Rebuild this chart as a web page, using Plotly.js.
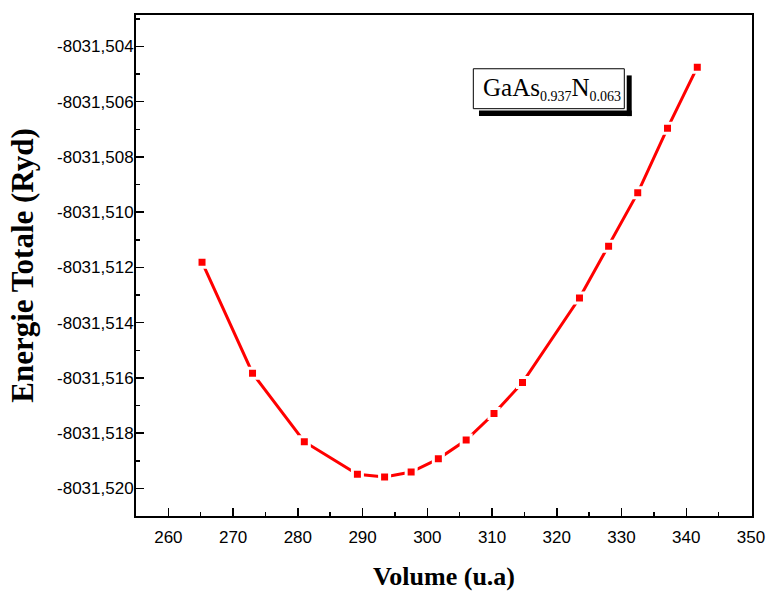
<!DOCTYPE html>
<html>
<head>
<meta charset="utf-8">
<script src="https://cdn.plot.ly/plotly-3.0.1.min.js"></script>
<style>html,body{margin:0;padding:0;background:#fff;}#chart{width:766px;height:595px;}</style>
</head>
<body>
<div id="chart"></div>
<script>
// Data
const volume = [265.2, 273.0, 281.0, 289.2, 293.4, 297.5, 301.7, 306.0, 310.3, 314.7, 323.5, 328.0, 332.5, 337.1, 341.7];
const energy = [-8031.51181, -8031.51583, -8031.51831, -8031.51949, -8031.51959, -8031.51941, -8031.51893,
                -8031.51825, -8031.51729, -8031.51617, -8031.51311, -8031.51123, -8031.50930, -8031.50696, -8031.50475];
const xTickVals = [260, 270, 280, 290, 300, 310, 320, 330, 340, 350];
const yTickVals = [-8031.504, -8031.506, -8031.508, -8031.510, -8031.512, -8031.514, -8031.516, -8031.518, -8031.520];
const yTickLabels = ['-8031,504', '-8031,506', '-8031,508', '-8031,510', '-8031,512', '-8031,514', '-8031,516', '-8031,518', '-8031,520'];
const legendLabel = 'GaAs<sub><span style="font-size:14px">0.937</span></sub>N<sub><span style="font-size:14px">0.063</span></sub>';

const trace = {
  x: volume, y: energy, type: 'scatter', mode: 'lines+markers',
  line: {color: '#ff0000', width: 3},
  marker: {symbol: 'square', size: 10, color: '#ff0000', line: {color: '#ffffff', width: 3}},
  showlegend: false, cliponaxis: false
};

const layout = {
  width: 766, height: 595,
  margin: {l: 136, r: 14, t: 14.5, b: 79},
  paper_bgcolor: '#ffffff', plot_bgcolor: '#ffffff',
  showlegend: false,
  xaxis: {
    range: [255, 350.15], tickvals: xTickVals, ticktext: xTickVals.map(String),
    ticks: 'inside', ticklen: 8, tickwidth: 1.5, tickcolor: '#000',
    minor: {dtick: 5, ticks: 'inside', ticklen: 4, tickwidth: 1.5, tickcolor: '#000'},
    showline: true, linecolor: '#000', linewidth: 2, mirror: true,
    showgrid: false, zeroline: false,
    ticklabelstandoff: 5,
    tickfont: {family: 'Liberation Sans, Arial, sans-serif', size: 17, color: '#000'},
    title: {text: '<b>Volume (u.a)</b>', standoff: 20,
            font: {family: 'Liberation Serif, Times New Roman, serif', size: 26, color: '#000'}}
  },
  yaxis: {
    range: [-8031.521, -8031.50286], tickvals: yTickVals, ticktext: yTickLabels,
    ticks: 'inside', ticklen: 8, tickwidth: 1.5, tickcolor: '#000',
    minor: {dtick: 0.001, ticks: 'inside', ticklen: 4, tickwidth: 1.5, tickcolor: '#000'},
    showline: true, linecolor: '#000', linewidth: 2, mirror: true,
    showgrid: false, zeroline: false,
    ticklabelstandoff: -3,
    tickfont: {family: 'Liberation Sans, Arial, sans-serif', size: 17, color: '#000'},
    title: {text: '<b>Energie Totale (Ryd)</b>', standoff: 14,
            font: {family: 'Liberation Serif, Times New Roman, serif', size: 31, color: '#000'}}
  },
  shapes: [
    {type: 'rect', xref: 'paper', yref: 'paper', x0: 0.7966, x1: 0.8047, y0: 0.7982, y1: 0.8794,
     fillcolor: '#000', line: {width: 0}},
    {type: 'rect', xref: 'paper', yref: 'paper', x0: 0.5568, x1: 0.8047, y0: 0.7982, y1: 0.8096,
     fillcolor: '#000', line: {width: 0}},
    {type: 'rect', xref: 'paper', yref: 'paper', x0: 0.5476, x1: 0.7927, y0: 0.8130, y1: 0.8927,
     fillcolor: '#fff', line: {color: '#000', width: 1}}
  ],
  annotations: [
    {xref: 'paper', yref: 'paper', x: 0.6750, y: 0.8527, xanchor: 'center', yanchor: 'middle',
     text: legendLabel, showarrow: false,
     font: {family: 'Liberation Serif, Times New Roman, serif', size: 25, color: '#000'}}
  ]
};

Plotly.newPlot('chart', [trace], layout, {displayModeBar: false, staticPlot: true});
</script>
</body>
</html>
